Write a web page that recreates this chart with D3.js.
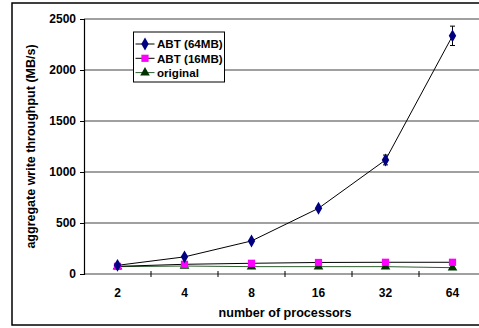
<!DOCTYPE html>
<html>
<head>
<meta charset="utf-8">
<script src="https://cdn.jsdelivr.net/npm/d3@7"></script>
<style>
  html, body { margin: 0; padding: 0; background: #fff; }
  svg { display: block; overflow: hidden; }
  svg text { font-family: "Liberation Sans", Arial, sans-serif !important; font-weight: 700 !important; fill: #000; }
</style>
</head>
<body>
<svg id="chart" width="479" height="328"></svg>
<script>
// ── Data ─────────────────────────────────────────────────────────────
const processors = ['2', '4', '8', '16', '32', '64'];
const abt64 = [85, 168, 324, 644, 1118, 2335];
const abt64Err = [0, 0, 0, 0, 48, 95];
const abt16 = [75, 95, 105, 113, 115, 115];
const original = [72, 78, 72, 72, 72, 62];
const yTicks = [0, 500, 1000, 1500, 2000, 2500];

const series = [
  { name: 'ABT (64MB)', values: abt64, err: abt64Err, marker: 'diamond', fill: '#000080', line: '#000' },
  { name: 'ABT (16MB)', values: abt16, marker: 'square', fill: '#ff00ff', line: '#000' },
  { name: 'original', values: original, marker: 'triangle', fill: '#003300', line: '#2e5e2e' },
];

// ── Layout ───────────────────────────────────────────────────────────
const svg = d3.select('#chart');
const plot = { left: 84, right: 486, top: 19, bottom: 274 };

const x = d3.scaleBand().domain(processors).range([plot.left, plot.right]);
const y = d3.scaleLinear().domain([0, 2500]).range([plot.bottom, plot.top]);
const cx = d => x(d) + x.bandwidth() / 2;

// outer frame
svg.append('rect')
  .attr('x', 12).attr('y', 3).attr('width', 500).attr('height', 322)
  .attr('fill', 'none').attr('stroke', '#000').attr('stroke-width', 1.5);

// gridlines
svg.append('g')
  .selectAll('line')
  .data(yTicks)
  .join('line')
  .attr('x1', plot.left).attr('x2', plot.right)
  .attr('y1', d => y(d)).attr('y2', d => y(d))
  .attr('stroke', '#808080').attr('stroke-width', 1.5);

// y axis
const yAxis = svg.append('g')
  .attr('transform', `translate(${plot.left},0)`)
  .call(d3.axisLeft(y).tickValues(yTicks).tickSize(4).tickPadding(4).tickFormat(d3.format('d')));
yAxis.select('.domain').attr('stroke', '#000').attr('stroke-width', 1.2);
yAxis.selectAll('.tick line').attr('stroke', '#000');
yAxis.attr('font-size', 12);

// x axis tick marks at band edges
const edges = processors.map(p => x(p)).concat([plot.right]);
svg.append('g')
  .selectAll('line')
  .data(edges.slice(1))
  .join('line')
  .attr('x1', d => d).attr('x2', d => d)
  .attr('y1', plot.bottom - 3).attr('y2', plot.bottom + 3)
  .attr('stroke', '#000');

svg.append('g')
  .selectAll('text')
  .data(processors)
  .join('text')
  .attr('x', d => cx(d))
  .attr('y', 296.5)
  .attr('text-anchor', 'middle')
  .attr('font-size', 12)
  .text(d => d);

// axis titles
svg.append('text')
  .attr('x', (plot.left + plot.right) / 2).attr('y', 316.5)
  .attr('text-anchor', 'middle').attr('font-size', 12.6)
  .text('number of processors');

svg.append('text')
  .attr('transform', `translate(35,${(plot.top + plot.bottom) / 2}) rotate(-90)`)
  .attr('text-anchor', 'middle').attr('font-size', 12.5)
  .text('aggregate write throughput (MB/s)');

// ── Series ───────────────────────────────────────────────────────────
const symbols = {
  diamond: d3.symbol().type(d3.symbolDiamond).size(48),
  square: d3.symbol().type(d3.symbolSquare).size(52),
  triangle: d3.symbol().type(d3.symbolTriangle).size(40),
};

const line = d3.line().x((d, i) => cx(processors[i])).y(d => y(d));

// draw lines from back to front: original, 16MB, 64MB
for (const s of series.slice().reverse()) {
  svg.append('path')
    .datum(s.values)
    .attr('d', line)
    .attr('fill', 'none')
    .attr('stroke', s.line)
    .attr('stroke-width', 1);
}

// error bars
const errData = abt64.map((v, i) => ({ p: processors[i], v, e: abt64Err[i] })).filter(d => d.e > 0);
const eb = svg.append('g').attr('stroke', '#000').attr('stroke-width', 1);
eb.selectAll('line.v').data(errData).join('line').attr('class', 'v')
  .attr('x1', d => cx(d.p)).attr('x2', d => cx(d.p))
  .attr('y1', d => y(d.v - d.e)).attr('y2', d => y(d.v + d.e));
eb.selectAll('line.t').data(errData).join('line').attr('class', 't')
  .attr('x1', d => cx(d.p) - 2.5).attr('x2', d => cx(d.p) + 2.5)
  .attr('y1', d => y(d.v + d.e)).attr('y2', d => y(d.v + d.e));
eb.selectAll('line.b').data(errData).join('line').attr('class', 'b')
  .attr('x1', d => cx(d.p) - 2.5).attr('x2', d => cx(d.p) + 2.5)
  .attr('y1', d => y(d.v - d.e)).attr('y2', d => y(d.v - d.e));

// markers (64MB drawn last so it sits on top)
for (const s of series.slice().reverse()) {
  svg.append('g')
    .selectAll('path')
    .data(s.values)
    .join('path')
    .attr('transform', (d, i) => `translate(${cx(processors[i])},${y(d)})`)
    .attr('d', symbols[s.marker])
    .attr('fill', s.fill);
}

// ── Legend ───────────────────────────────────────────────────────────
const legend = svg.append('g').attr('transform', 'translate(133.5,32)');
legend.append('rect')
  .attr('width', 91).attr('height', 50)
  .attr('fill', '#fff').attr('stroke', '#000').attr('stroke-width', 1);

series.forEach((s, i) => {
  const ly = 12 + i * 14.3;
  legend.append('line')
    .attr('x1', 2).attr('x2', 21)
    .attr('y1', ly).attr('y2', ly)
    .attr('stroke', s.line).attr('stroke-width', 1);
  legend.append('path')
    .attr('transform', `translate(11.5,${ly})`)
    .attr('d', symbols[s.marker])
    .attr('fill', s.fill);
  legend.append('text')
    .attr('x', 23.5).attr('y', ly + 4.2)
    .attr('font-size', 11.6)
    .text(s.name);
});
</script>
</body>
</html>
